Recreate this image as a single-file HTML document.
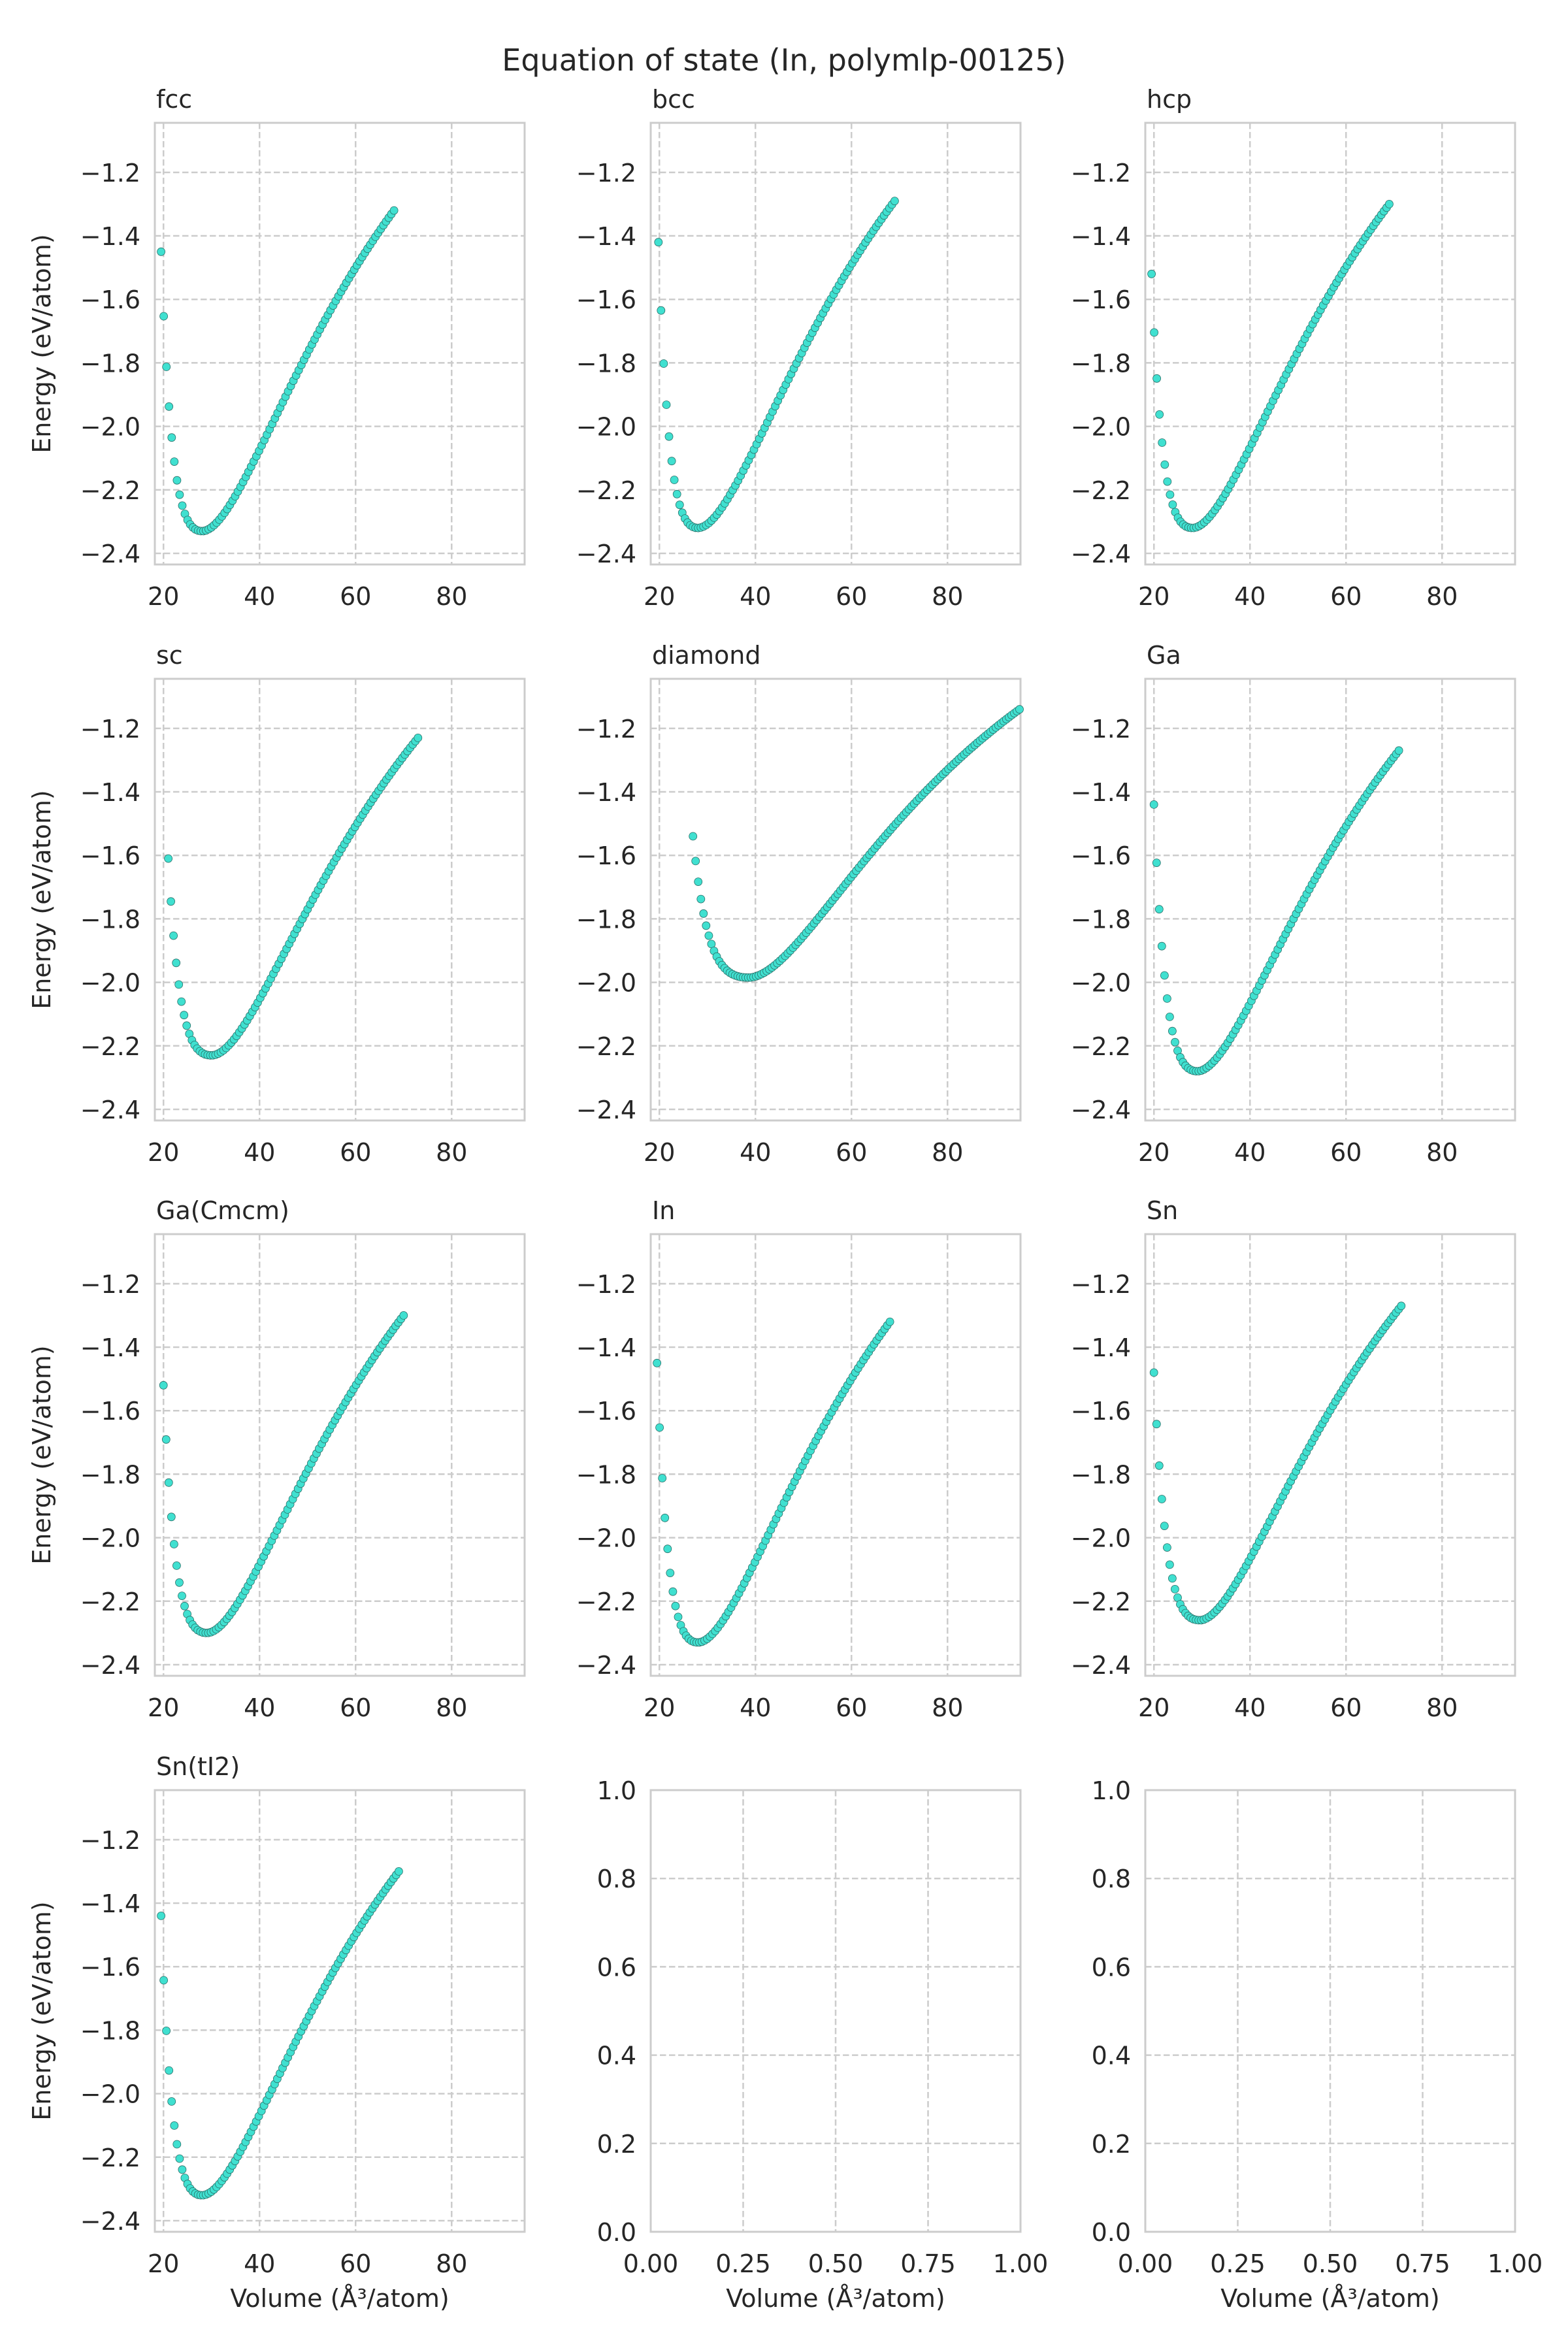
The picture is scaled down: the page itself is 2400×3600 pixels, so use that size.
<!DOCTYPE html>
<html><head><meta charset="utf-8"><style>
html,body{margin:0;padding:0;background:#fff}
svg{display:block}
text{font-family:"DejaVu Sans","Liberation Sans",sans-serif;fill:#262626}
</style></head><body>
<svg id="s" width="2400" height="3600" viewBox="0 0 2400 3600" xmlns="http://www.w3.org/2000/svg">
<text x="1200" y="108" font-size="46" text-anchor="middle">Equation of state (In, polymlp-00125)</text>
</svg>
<script>
const NS="http://www.w3.org/2000/svg",S=document.getElementById('s');
function el(t,a,txt){const e=document.createElementNS(NS,t);for(const k in a)e.setAttribute(k,a[k]);if(txt!==undefined)e.textContent=txt;S.appendChild(e);return e;}
const cols=[237,996,1753],rows=[188,1039,1889,2740],W=566,H=676;
const panels=[
["fcc",19.5,-1.45,28,-2.33,68,-1.32],
["bcc",19.8,-1.42,28,-2.32,69,-1.29],
["hcp",19.5,-1.52,28,-2.32,69,-1.30],
["sc",21,-1.61,30,-2.23,73,-1.23],
["diamond",27,-1.54,38.5,-1.985,95,-1.14],
["Ga",20,-1.44,29,-2.28,71,-1.27],
["Ga(Cmcm)",20,-1.52,29,-2.30,70,-1.30],
["In",19.5,-1.45,28,-2.33,68,-1.32],
["Sn",20,-1.48,29.5,-2.26,71.5,-1.27],
["Sn(tI2)",19.5,-1.44,28,-2.32,69,-1.30]];
const xmin=18.2,xmax=95.2,ymax=-1.044,ymin=-2.435;
function axes(L,T,xt,yt,fx,fy,xl,yl){
 for(const v of xt){const x=fx(v);el('line',{x1:x,x2:x,y1:T,y2:T+H,stroke:'#cccccc','stroke-width':2.5,'stroke-dasharray':'9.5,4.5'});
  el('text',{x:x,y:T+H+62,'font-size':38,'text-anchor':'middle'},xl(v));}
 for(const v of yt){const y=fy(v);el('line',{x1:L,x2:L+W,y1:y,y2:y,stroke:'#cccccc','stroke-width':2.5,'stroke-dasharray':'9.5,4.5'});
  el('text',{x:L-22,y:y+14,'font-size':38,'text-anchor':'end'},yl(v));}
 el('rect',{x:L,y:T,width:W,height:H,fill:'none',stroke:'#cccccc','stroke-width':3});
}
panels.forEach((p,i)=>{
 const L=cols[i%3],T=rows[Math.floor(i/3)];
 const fx=v=>L+(v-xmin)/(xmax-xmin)*W, fy=v=>T+(ymax-v)/(ymax-ymin)*H;
 axes(L,T,[20,40,60,80],[-1.2,-1.4,-1.6,-1.8,-2.0,-2.2,-2.4],fx,fy,v=>String(v),v=>'\u2212'+Math.abs(v).toFixed(1));
 el('text',{x:L+2,y:T-23,'font-size':38},p[0]);
 if(i%3==0){const cy=T+H/2;el('text',{x:0,y:0,'font-size':38,'text-anchor':'middle',transform:`translate(77,${cy}) rotate(-90)`},'Energy (eV/atom)');}
 const [_,Vs,Es,V0,E0,Ve,Ee]=p;
 const a0=Math.cbrt(V0),dr=Math.cbrt(Ve)-a0,kr=1.1;
 const D=(Ee-E0)/Math.pow(1-Math.exp(-kr*dr),2);
 const dl=V0-Vs,kl=3.6/dl,A=(Es-E0)/(Math.exp(kl*dl)-1-kl*dl);
 const N=Math.round((Ve-Vs)/0.55)+1;
 for(let j=0;j<N;j++){const V=Vs+(Ve-Vs)*j/(N-1);let E;
  if(V<V0){const x=V0-V;E=E0+A*(Math.exp(kl*x)-1-kl*x);}
  else{const a=Math.cbrt(V);E=E0+D*Math.pow(1-Math.exp(-kr*(a-a0)),2);}
  el('circle',{cx:fx(V).toFixed(1),cy:fy(E).toFixed(1),r:6,fill:'#40e0d0',stroke:'#2a6f68','stroke-width':0.8});}
 if(Math.floor(i/3)==3) el('text',{x:L+W/2,y:T+H+115,'font-size':38,'text-anchor':'middle'},'Volume (\u00c5\u00b3/atom)');
});
for(const c of [1,2]){
 const L=cols[c],T=rows[3];
 const fx=v=>L+v*W, fy=v=>T+(1-v)*H;
 axes(L,T,[0,0.25,0.5,0.75,1],[0,0.2,0.4,0.6,0.8,1],fx,fy,v=>v.toFixed(2),v=>v.toFixed(1));
 el('text',{x:L+W/2,y:T+H+115,'font-size':38,'text-anchor':'middle'},'Volume (\u00c5\u00b3/atom)');
}
</script>
</body></html>
